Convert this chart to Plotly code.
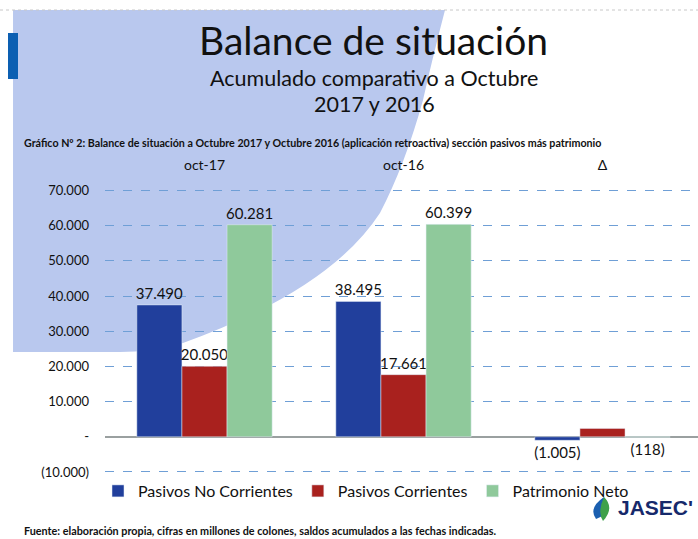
import plotly.graph_objects as go

categories = ["oct-17", "oct-16", "Δ"]
series_names = ["Pasivos No Corrientes", "Pasivos Corrientes", "Patrimonio Neto"]
pasivos_no_corrientes = [37490, 38495, -1005]
pasivos_corrientes = [20050, 17661, 2389]
patrimonio_neto = [60281, 60399, -118]
show_label = [[True, True, True], [True, True, False], [True, True, True]]
colors = ["#213f9c", "#a9211e", "#8fc99b"]
tick_values = [-10000, 0, 10000, 20000, 30000, 40000, 50000, 60000, 70000]

W, H = 698, 539
ML, MR, MT, MB = 105, 0, 180, 60
PW, PH = W - ML - MR, H - MT - MB


def fx(px):
    return (px - ML) / PW


def fy(py):
    return (H - MB - py) / PH


def fmt(v):
    s = f"{abs(v):,}".replace(",", ".")
    if v == 0:
        return "-"
    return f"({s})" if v < 0 else s


FONT = "Lato"
fig = go.Figure()
for name, vals, col, show in zip(series_names,
                                 [pasivos_no_corrientes, pasivos_corrientes, patrimonio_neto],
                                 colors, show_label):
    fig.add_trace(go.Bar(
        name=name, x=categories, y=vals, marker_color=col,
        text=[fmt(v) for v in vals],
        textposition=["outside" if s else "none" for s in show],
        cliponaxis=False, constraintext="none",
        textfont=dict(size=15, color="#111111", family=FONT),
    ))

# decorative light-blue background shape
pts = [(13, 10), (445, 10)]
path = "M " + " L ".join(f"{fx(x):.4f},{fy(y):.4f}" for x, y in pts)
path += " Q {:.4f},{:.4f} {:.4f},{:.4f}".format(fx(432), fy(60), fx(423), fy(100))
path += " Q {:.4f},{:.4f} {:.4f},{:.4f}".format(fx(405), fy(165), fx(380), fy(213))
path += " Q {:.4f},{:.4f} {:.4f},{:.4f}".format(fx(330), fy(290), fx(183), fy(343))
path += " Q {:.4f},{:.4f} {:.4f},{:.4f}".format(fx(150), fy(352), fx(120), fy(352))
path += " L {:.4f},{:.4f} Z".format(fx(13), fy(352))

shapes = [
    dict(type="path", xref="paper", yref="paper", path=path,
         fillcolor="#b9c8ee", line=dict(width=0), layer="below"),
    dict(type="rect", xref="paper", yref="paper", x0=fx(8), x1=fx(18), y0=fy(33), y1=fy(79),
         fillcolor="#0c5fb2", line=dict(width=0), layer="below"),
    dict(type="line", xref="paper", yref="paper", x0=fx(0), x1=fx(698), y0=fy(10), y1=fy(10),
         line=dict(color="#c8c8c8", width=1, dash="dot")),
    # logo droplet
    dict(type="path", xref="paper", yref="paper",
         path="M {:.4f},{:.4f} Q {:.4f},{:.4f} {:.4f},{:.4f} Q {:.4f},{:.4f} {:.4f},{:.4f} Z".format(
             fx(604), fy(497), fx(588), fy(508), fx(596), fy(519),
             fx(610), fy(515), fx(604), fy(497)),
         fillcolor="#1b5fb0", line=dict(width=0)),
    dict(type="path", xref="paper", yref="paper",
         path="M {:.4f},{:.4f} Q {:.4f},{:.4f} {:.4f},{:.4f} Q {:.4f},{:.4f} {:.4f},{:.4f} Z".format(
             fx(604), fy(497), fx(615), fy(508), fx(603), fy(521),
             fx(597), fy(512), fx(604), fy(497)),
         fillcolor="#3fa14a", line=dict(width=0)),
]

annotations = [
    dict(text="Balance de situación", x=fx(373), y=fy(40), xref="paper", yref="paper",
         showarrow=False, font=dict(size=39, family=FONT, color="#111111"), xanchor="center", yanchor="middle"),
    dict(text="Acumulado comparativo a Octubre", x=fx(374), y=fy(78), xref="paper", yref="paper",
         showarrow=False, font=dict(size=21.5, family=FONT, color="#111111"), xanchor="center", yanchor="middle"),
    dict(text="2017 y 2016", x=fx(374), y=fy(104), xref="paper", yref="paper",
         showarrow=False, font=dict(size=21.5, family=FONT, color="#111111"), xanchor="center", yanchor="middle"),
    dict(text="<b>Gráfico Nº 2: Balance de situación a Octubre 2017 y Octubre 2016 (aplicación retroactiva) sección pasivos más patrimonio</b>",
         x=fx(22), y=fy(142), xref="paper", yref="paper", showarrow=False,
         font=dict(size=10.7, family=FONT, color="#111111"), xanchor="left", yanchor="middle"),
    dict(text="<b>Fuente: elaboración propia, cifras en millones de colones, saldos acumulados a las fechas indicadas.</b>",
         x=fx(22), y=fy(530), xref="paper", yref="paper", showarrow=False,
         font=dict(size=10.8, family=FONT, color="#111111"), xanchor="left", yanchor="middle"),
    dict(text="<b>JASEC'</b>", x=fx(616), y=fy(507), xref="paper", yref="paper", showarrow=False,
         font=dict(size=21, family="Liberation Sans", color="#16296b"), xanchor="left", yanchor="middle"),
]

fig.update_layout(
    width=W, height=H,
    margin=dict(l=ML, r=MR, t=MT, b=MB, pad=0),
    paper_bgcolor="white", plot_bgcolor="rgba(0,0,0,0)",
    barmode="group", bargap=0.32, bargroupgap=0,
    font=dict(family=FONT, color="#111111"),
    showlegend=True,
    legend=dict(orientation="h", x=fx(98), y=fy(491), xanchor="left", yanchor="middle",
                font=dict(size=16, family=FONT, color="#111111"), bgcolor="rgba(0,0,0,0)",
                itemwidth=30, tracegroupgap=0),
    xaxis=dict(side="top", range=[-0.5, 2.48], showgrid=False, showline=False, ticks="",
               tickfont=dict(size=14, family=FONT, color="#111111"), ticklabelstandoff=6),
    yaxis=dict(range=[-12000, 73000], tickvals=tick_values,
               ticktext=[fmt(v) for v in tick_values],
               tickfont=dict(size=13, family=FONT, color="#111111"),
               showgrid=True, gridcolor="#6f9fd6", griddash="dash", gridwidth=1,
               zeroline=True, zerolinecolor="#9aa0a0", zerolinewidth=1.5,
               showline=False, ticks="", ticklabelstandoff=15),
    shapes=shapes, annotations=annotations,
)
fig.update_yaxes(tickprefix="<b>", ticksuffix="</b>")

fig.write_html("out.html", config={"displayModeBar": False},
               post_script="document.body.style.margin='0';")
